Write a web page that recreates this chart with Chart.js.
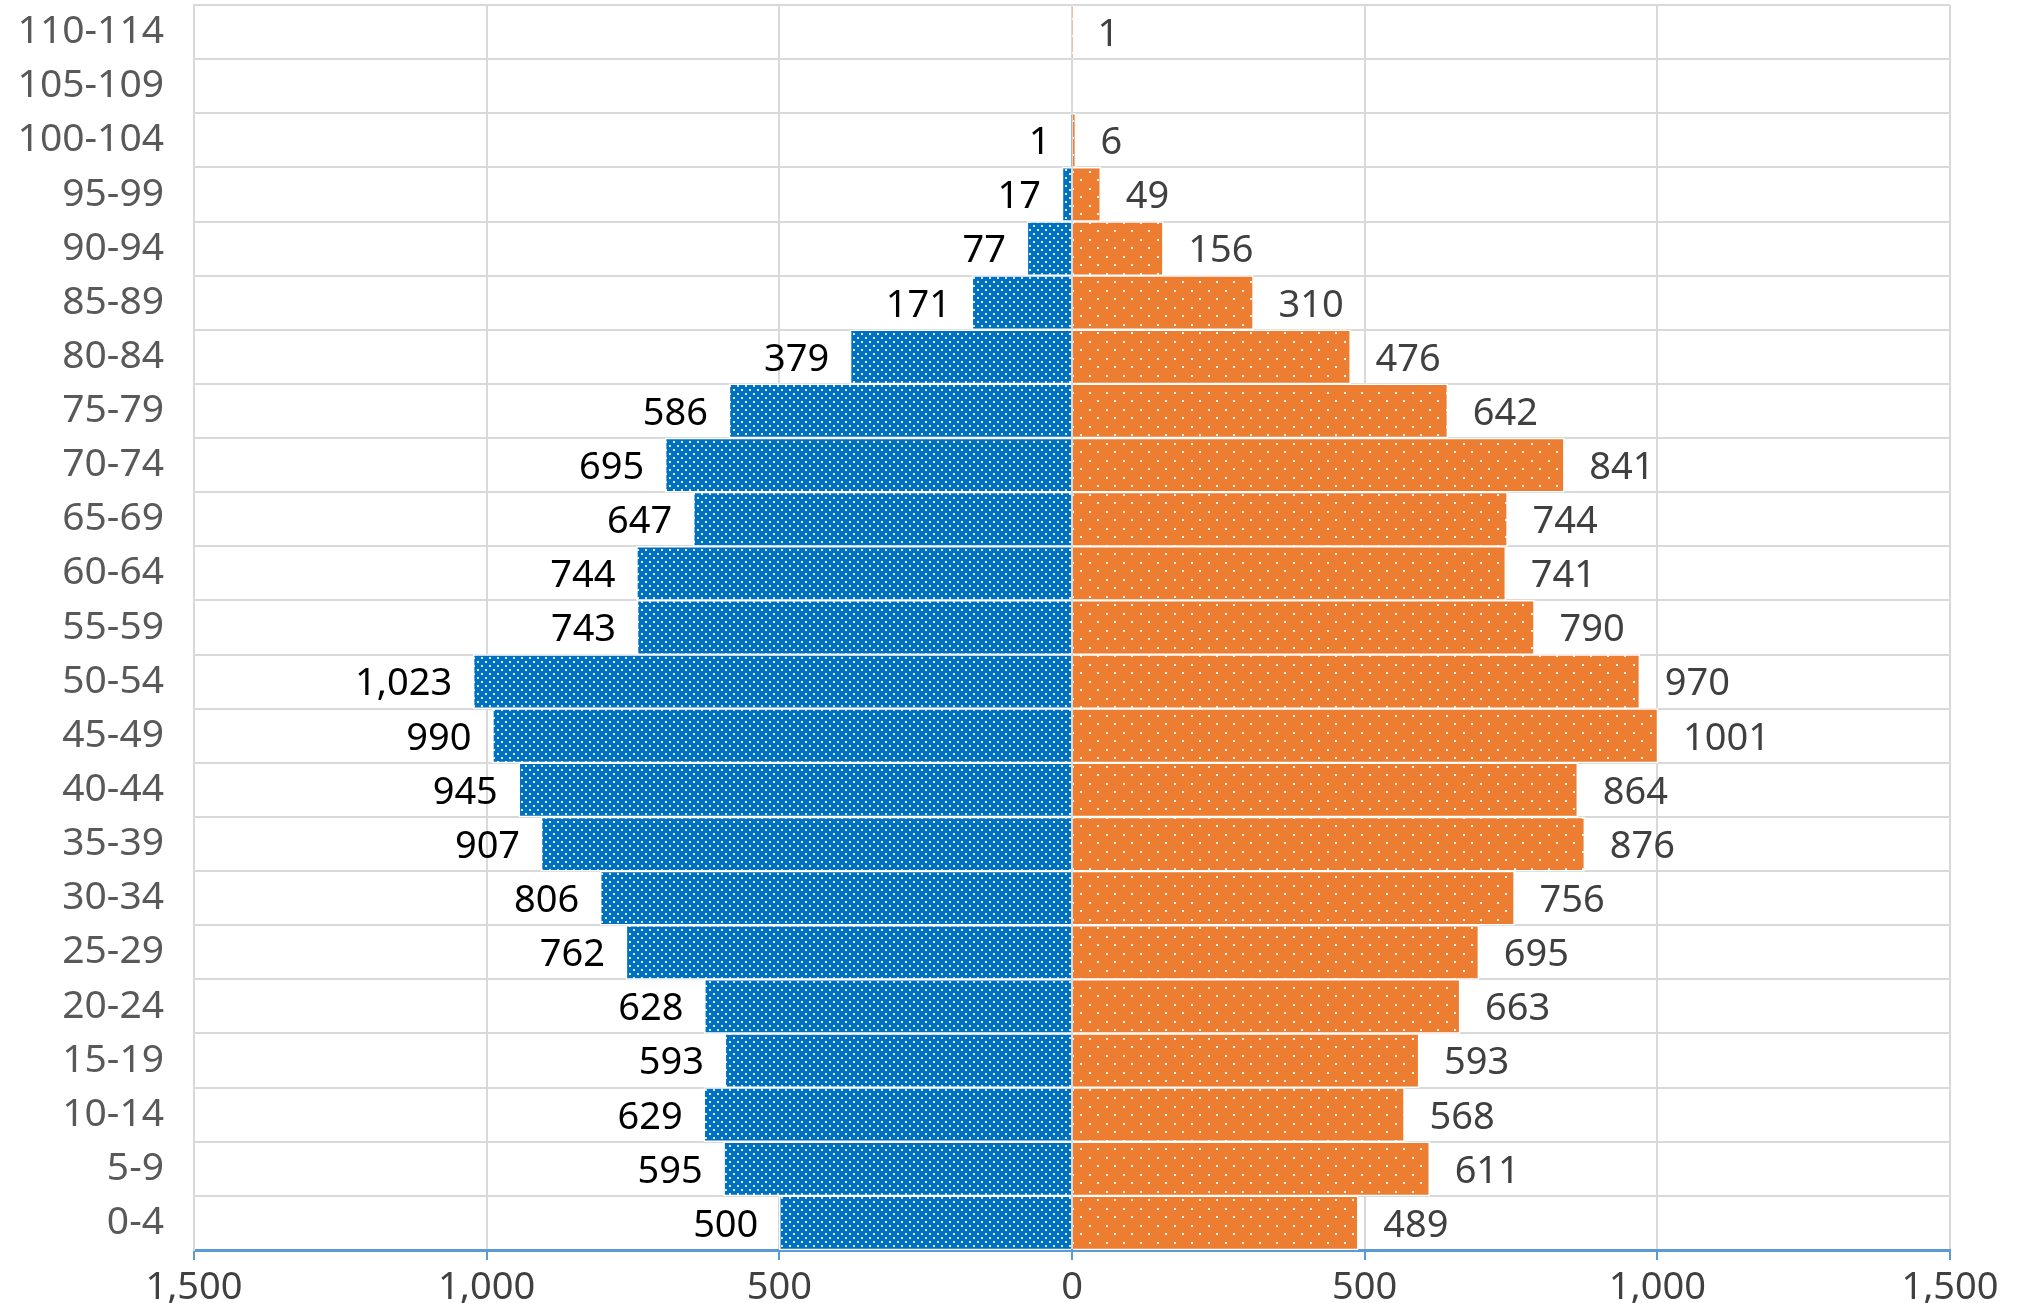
<!DOCTYPE html>
<html>
<head>
<meta charset="utf-8">
<script src="https://cdn.jsdelivr.net/npm/chart.js@4"></script>
<style>
  html, body { margin: 0; padding: 0; background: #fff; }
  #wrap { width: 2031px; height: 1303px; position: relative; }
</style>
</head>
<body>
<div id="wrap"><canvas id="pyramid"></canvas></div>
<script>
// Datos (de abajo hacia arriba)
const ageGroups = ['0-4', '5-9', '10-14', '15-19', '20-24', '25-29', '30-34', '35-39', '40-44', '45-49',
    '50-54', '55-59', '60-64', '65-69', '70-74', '75-79', '80-84', '85-89', '90-94', '95-99',
    '100-104', '105-109', '110-114'];
const maleValues = [500, 595, 629, 593, 628, 762, 806, 907, 945, 990,
    1023, 743, 744, 647, 695, 586, 379, 171, 77, 17,
    1, null, null];
const femaleValues = [489, 611, 568, 593, 663, 695, 756, 876, 864, 1001,
    970, 790, 741, 744, 841, 642, 476, 310, 156, 49,
    6, null, 1];
const xTicks = [-1500, -1000, -500, 0, 500, 1000, 1500];

const FONT = '"Noto Sans", sans-serif';

// Patron de puntos para las barras
function dotPattern(base, size, dot, alpha) {
    const c = document.createElement('canvas');
    c.width = size;
    c.height = size;
    const g = c.getContext('2d');
    g.fillStyle = base;
    g.fillRect(0, 0, size, size);
    g.fillStyle = 'rgba(255,255,255,' + alpha + ')';
    const h = Math.floor(size / 2);
    g.fillRect(1, 1, dot, dot);
    g.fillRect(1 + h, 1 + h, dot, dot);
    return g.createPattern(c, 'repeat');
}

const bluePattern = dotPattern('#0070C0', 8, 2, 0.85);
const orangePattern = dotPattern('#ED7D31', 17, 2, 0.95);

// Etiquetas de valores
const valueLabels = {
    id: 'valueLabels',
    afterDatasetsDraw(chart) {
        const ctx = chart.ctx;
        ctx.save();
        ctx.font = '38px ' + FONT;
        ctx.textBaseline = 'middle';
        chart.data.datasets.forEach((ds, i) => {
            const meta = chart.getDatasetMeta(i);
            meta.data.forEach((bar, j) => {
                const v = ds.data[j];
                if (v === null || v === undefined) return;
                if (v < 0) {
                    ctx.fillStyle = '#000000';
                    ctx.textAlign = 'right';
                    ctx.fillText(Math.abs(v).toLocaleString('en-US'), bar.x - 21, bar.y + 3);
                } else {
                    ctx.fillStyle = '#404040';
                    ctx.textAlign = 'left';
                    ctx.fillText(String(v), bar.x + 25, bar.y + 3);
                }
            });
        });
        ctx.restore();
    }
};

const ctx = document.getElementById('pyramid').getContext('2d');

const pyramidChart = new Chart(ctx, {
    type: 'bar',
    data: {
        labels: ageGroups,
        datasets: [{
            label: '男',
            data: maleValues.map(v => v === null ? null : -v),
            backgroundColor: bluePattern,
            borderColor: '#ffffff',
            borderWidth: 1.5,
            barPercentage: 1.0,
            categoryPercentage: 1.0
        }, {
            label: '女',
            data: femaleValues,
            backgroundColor: orangePattern,
            borderColor: '#ffffff',
            borderWidth: 1.5,
            barPercentage: 1.0,
            categoryPercentage: 1.0
        }]
    },
    options: {
        indexAxis: 'y',
        responsive: true,
        maintainAspectRatio: false,
        animation: false,
        layout: {
            padding: { top: 5, right: 81, left: 0, bottom: 0 }
        },
        plugins: {
            legend: { display: false },
            tooltip: { enabled: false }
        },
        scales: {
            x: {
                stacked: true,
                min: -1500,
                max: 1500,
                afterBuildTicks(scale) {
                    scale.ticks = xTicks.map(v => ({ value: v }));
                },
                afterFit(scale) {
                    scale.height = 53;
                    scale.paddingLeft = 0;
                    scale.paddingRight = 0;
                },
                grid: {
                    color: '#d9d9d9',
                    lineWidth: 2,
                    drawTicks: true,
                    tickLength: 10,
                    tickColor: '#5B9BD5',
                    tickWidth: 2
                },
                border: {
                    display: true,
                    color: '#5B9BD5',
                    width: 3
                },
                ticks: {
                    color: '#404040',
                    padding: 5,
                    maxRotation: 0,
                    font: { family: FONT, size: 38 },
                    callback: (v) => Math.abs(v).toLocaleString('en-US')
                }
            },
            y: {
                stacked: true,
                reverse: true,
                afterFit(scale) {
                    scale.width = 194;
                    scale.paddingTop = 0;
                    scale.paddingBottom = 0;
                },
                grid: {
                    color: '#d9d9d9',
                    lineWidth: 2,
                    drawTicks: false,
                    offset: true
                },
                border: {
                    display: true,
                    color: '#d9d9d9',
                    width: 2
                },
                ticks: {
                    color: '#595959',
                    padding: 30,
                    autoSkip: false,
                    font: { family: FONT, size: 39 }
                }
            }
        }
    },
    plugins: [valueLabels]
});
</script>
</body>
</html>
